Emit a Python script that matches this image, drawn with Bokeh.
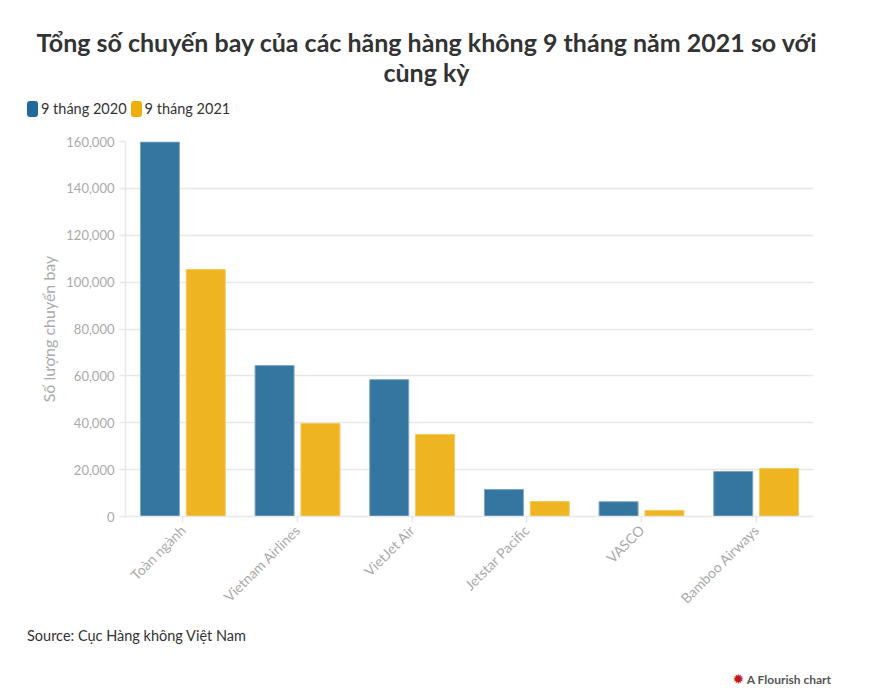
from bokeh.plotting import figure
from bokeh.models import (ColumnDataSource, Range1d, Div, NumeralTickFormatter, FixedTicker)
from bokeh.layouts import column
from bokeh.transform import dodge
from bokeh.embed import file_html
from bokeh.resources import INLINE
import math

categories = ["Toàn ngành", "Vietnam Airlines", "VietJet Air", "Jetstar Pacific", "VASCO", "Bamboo Airways"]
flights_2020 = [159800, 64400, 58400, 11500, 6300, 19200]
flights_2021 = [105400, 39700, 35000, 6400, 2600, 20500]
series_names = ["9 tháng 2020", "9 tháng 2021"]
series_colors = ["#1f6a98", "#eeae0e"]
y_ticks = [0, 20000, 40000, 60000, 80000, 100000, 120000, 140000, 160000]
title_lines = ["Tổng số chuyến bay của các hãng hàng không 9 tháng năm 2021 so với", "cùng kỳ"]
source_text = "Source: Cục Hàng không Việt Nam"
credit_text = "A Flourish chart"

FONT = "Lato"
W = 853
src = ColumnDataSource(dict(cat=categories, a=flights_2020, b=flights_2021))

legend_html = "".join(
    f'<span style="display:inline-block;width:11px;height:16px;border-radius:3px;'
    f'background:{c};vertical-align:middle;margin-right:3px;"></span>'
    f'<span style="vertical-align:middle;margin-right:4px;">{n}</span>'
    for n, c in zip(series_names, series_colors))

header_div = Div(
    text=(f'<div style="position:relative;width:{W}px;height:125px;font-family:{FONT};color:#333333;">'
          f'<div style="position:absolute;left:0;top:27px;width:{W}px;text-align:center;'
          f'font-weight:bold;font-size:25px;line-height:30px;">{title_lines[0]}<br>{title_lines[1]}</div>'
          f'<div style="position:absolute;left:27px;top:98px;font-size:14.5px;line-height:20px;white-space:nowrap;">'
          f'{legend_html}</div></div>'),
    width=W, height=125, margin=0)

p = figure(x_range=categories, y_range=Range1d(0, 160000), width=W, height=496,
           output_backend="svg", toolbar_location=None, margin=0,
           min_border_left=125, min_border_right=40, min_border_top=16, min_border_bottom=105)
p.outline_line_color = None

p.vbar(x=dodge("cat", -0.2, range=p.x_range), top="a", width=0.34, source=src,
       fill_color="#34769f", line_color="#7ea6c4", line_width=1)
p.vbar(x=dodge("cat", 0.2, range=p.x_range), top="b", width=0.34, source=src,
       fill_color="#eeb421", line_color="#f4ca5f", line_width=1)

p.xgrid.grid_line_color = None
p.ygrid.grid_line_color = "#e8e8e8"
p.ygrid.grid_line_width = 1.5
p.yaxis.ticker = FixedTicker(ticks=y_ticks)
p.yaxis.formatter = NumeralTickFormatter(format="0,0")
for ax in (p.xaxis[0], p.yaxis[0]):
    ax.axis_line_color = "#e8e8e8"
    ax.axis_line_width = 1.5
    ax.major_tick_line_color = "#e8e8e8"
    ax.major_tick_line_width = 1.5
    ax.major_tick_out = 6
    ax.major_tick_in = 0
    ax.minor_tick_line_color = None
    ax.major_label_text_color = "#aaaaaa"
    ax.major_label_text_font = FONT
p.yaxis.major_label_text_font_size = "13px"
p.xaxis.major_label_text_font_size = "14px"
p.xaxis.major_label_orientation = math.pi / 4
p.yaxis.axis_label = "Số lượng chuyến bay"
p.yaxis.axis_label_text_font = FONT
p.yaxis.axis_label_text_font_style = "normal"
p.yaxis.axis_label_text_font_size = "16px"
p.yaxis.axis_label_text_color = "#aaaaaa"

footer_div = Div(
    text=(f'<div style="position:relative;width:{W}px;height:70px;font-family:{FONT};">'
          f'<span style="position:absolute;left:27px;top:5px;font-size:14.5px;color:#333333;">{source_text}</span>'
          f'<span style="position:absolute;right:22px;top:48px;font-size:12px;font-weight:bold;color:#555555;">'
          f'<span style="color:#c2181b;font-family:\'DejaVu Sans\';font-size:14px;">&#10041;</span> {credit_text}</span>'
          f'</div>'),
    width=W, height=70, margin=0)

layout = column(header_div, p, footer_div, spacing=0)
open("out.html", "w").write(file_html(layout, INLINE))
